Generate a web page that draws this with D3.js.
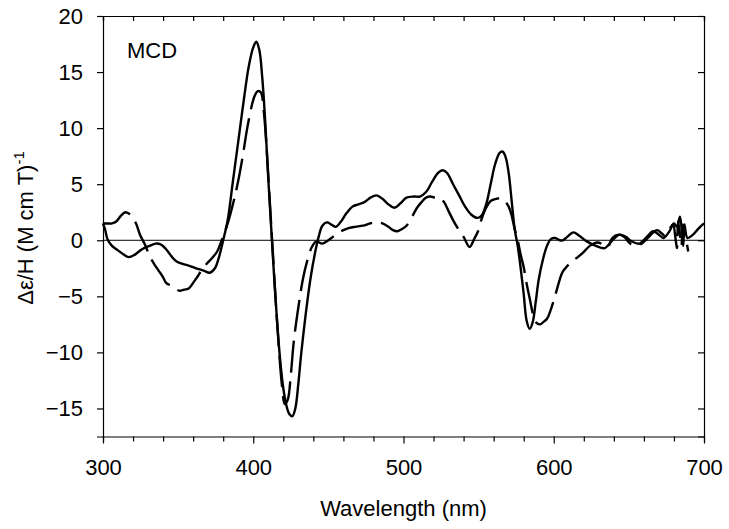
<!DOCTYPE html>
<html><head><meta charset="utf-8">
<script src="https://cdn.jsdelivr.net/npm/d3@7"></script>
<style>body{margin:0;background:#fff}svg{display:block}text{font-family:"Liberation Sans",Arial,sans-serif;fill:#000}</style>
</head><body><svg id="c" width="729" height="529"></svg>
<script>
const solidWl = [300,301.5,303,306,310,314,317,321,326,331,335,338,342,346,349,353,358,362,367,371,374.5,377,380,383,386.5,390,394,397,400,402,404,406,408,410,412,414,416,418,420,422,424,426,428,430,432,435,438,441,443.5,446,449,452,455,458,462,466,470,474,478,482,486,490,494,498,502,507,511,515,519,523,526,529,533,537,541,545,549,552,555,558,561,564,566,568,570,572,574,576,578,580,582,584,586,588,590,593,595.5,598,601,604,606,609,613,617,622,628,634,639,644,648,652,657,662,666,670,673,677,680,682,684,685.4,686.2,687,689,692.7,696,700];
const solidVal = [1.5,0.9,0.1,-0.5,-0.9,-1.3,-1.5,-1.3,-0.8,-0.5,-0.3,-0.35,-0.8,-1.5,-1.9,-2.1,-2.3,-2.5,-2.7,-2.9,-2.5,-1.6,0,1.8,5.3,8.8,12.8,15.5,17.2,17.7,17.0,14.5,10.5,5.5,1.0,-3.5,-7.5,-10.8,-13.2,-14.7,-15.5,-15.7,-15.0,-12.8,-10,-6.5,-3.5,-1.2,0.3,1.3,1.6,1.4,1.2,1.6,2.4,3.0,3.2,3.4,3.8,4.0,3.7,3.2,2.9,3.3,3.8,3.9,3.9,4.3,5.2,6.0,6.25,6.0,5.0,4.0,3.0,2.3,2.0,2.2,3.2,5.0,6.8,7.8,7.9,7.4,6.0,3.5,1.0,-0.5,-2.5,-4.8,-7.2,-7.9,-7.3,-5.5,-3.5,-1.6,-0.5,0.1,0.2,0.0,0.0,0.3,0.7,0.4,-0.1,-0.5,-0.7,0.0,0.5,0.3,-0.1,-0.3,0.3,0.8,0.5,0.2,0.8,1.5,1.2,2.1,0.5,-0.5,1.4,0.2,0.5,1.0,1.5];

const dashWl = [300,303,306,309,312,315,318,320,322,324.6,328,331,334,337,340,342,346,349,351,354,357,360,362.6,366,369,372.5,376,379,383,387,390,393,396,399,401,403,405,407,409,411,413,415,417,419,421,423,425,427,430,433,436,439,442,446,450,453,456,460,464,468,473,477.7,482,486,490,493,496,499,502,505.7,509,512,515,518,521,524,527,530,533,536,540,544,547,549.6,552,555,558,562,565,567.5,570,572,574,576,578,580,582,584,586,588,591,593,595.5,598,601,604,606,609,612,616,619.5,624,629,633,636,639,643,647,651,657,661,664,668.7,672,674,677,679.4,681,682,682.7,684,685,686,687.5,689.5];
const dashVal = [1.5,1.5,1.5,1.7,2.2,2.5,2.3,1.9,1.5,0.5,-0.4,-1.4,-2.1,-2.7,-3.3,-3.8,-4.1,-4.4,-4.5,-4.4,-4.3,-3.8,-3.3,-2.6,-2.1,-1.6,-1.0,0,1.5,3.5,5.3,7.5,10,12,12.9,13.3,13.2,11.5,8,3.5,-1,-5.5,-9.5,-12.8,-14.6,-14.2,-12,-9,-6,-3.5,-1.8,-0.6,-0.1,-0.3,0.0,0.3,0.6,0.9,1.1,1.2,1.3,1.5,1.6,1.5,1.2,0.9,0.8,1.0,1.3,2.1,2.9,3.4,3.8,3.9,3.8,3.8,3.4,2.6,1.8,1.1,0.3,-0.6,0.1,0.8,1.9,2.9,3.5,3.7,3.75,3.5,3.0,2.2,1.0,0,-1.3,-2.4,-3.9,-5.2,-6.5,-7.3,-7.5,-7.3,-7.0,-6.2,-4.9,-3.5,-2.8,-2.3,-1.9,-1.5,-1.1,-0.5,-0.2,-0.4,-0.6,0.2,0.5,0.3,-0.3,-0.4,0.0,0.4,0.9,0.6,0.4,1.0,1.4,0.2,-0.7,1.7,0.5,-0.5,1.4,0.5,-1.0];

const xMajor = [300,400,500,600,700];
const yMajor = [-15,-10,-5,0,5,10,15,20];

const svg = d3.select("#c");
const x = d3.scaleLinear().domain([300,700]).range([103,704]);
const y = d3.scaleLinear().domain([-17.5,20]).range([436.5,16]);
const X0=103,X1=704,Y0=436.5,Y1=16;
const FS = "22px";

svg.append("line").attr("x1",X0).attr("x2",X1).attr("y1",y(0)).attr("y2",y(0))
  .attr("stroke","#000").attr("stroke-width",1);

const line = d3.line().x(d=>x(d[0])).y(d=>y(d[1])).curve(d3.curveCatmullRom.alpha(0.5));
svg.append("path").datum(solidWl.map((w,i)=>[w,solidVal[i]])).attr("d",line)
  .attr("fill","none").attr("stroke","#000").attr("stroke-width",2.4).attr("stroke-linejoin","round");
svg.append("path").datum(dashWl.map((w,i)=>[w,dashVal[i]])).attr("d",line)
  .attr("fill","none").attr("stroke","#000").attr("stroke-width",2.4).attr("stroke-dasharray","32,9");

const minor = d3.range(300,701,20);
const gb = svg.append("g").attr("transform",`translate(0,${Y0})`)
  .call(d3.axisBottom(x).tickValues(minor).tickSize(5).tickFormat(()=> ""));
gb.selectAll(".tick line").attr("y2",d=>xMajor.includes(d)?7:5);
const gbl = svg.append("g").attr("transform",`translate(0,${Y0})`)
  .call(d3.axisBottom(x).tickValues(xMajor).tickSize(0).tickPadding(23).tickFormat(d3.format("d")));
gbl.select(".domain").remove();
svg.append("g").attr("transform",`translate(0,${Y1})`)
  .call(d3.axisTop(x).tickValues(minor).tickSize(-5).tickFormat(()=> ""));
svg.append("g").attr("transform",`translate(${X0},0)`)
  .call(d3.axisLeft(y).tickValues(yMajor).tickSize(6).tickPadding(14).tickFormat(d3.format("d")));
svg.append("g").attr("transform",`translate(${X1},0)`)
  .call(d3.axisRight(y).tickValues(yMajor).tickSize(-6).tickFormat(()=> ""));
svg.selectAll(".domain").attr("stroke","#000").attr("stroke-width",1.2);
svg.selectAll(".tick line").attr("stroke","#000").attr("stroke-width",1.2);
svg.selectAll(".tick text").attr("font-size",FS).attr("font-family","Liberation Sans, Arial, sans-serif").attr("fill","#000");

svg.append("text").attr("x",403.5).attr("y",516).attr("text-anchor","middle").attr("font-size",FS).text("Wavelength (nm)");
const yt = svg.append("text").attr("transform","translate(33,228) rotate(-90)").attr("text-anchor","middle").attr("font-size",FS);
yt.append("tspan").text("Δε/H (M cm T)");
yt.append("tspan").attr("dy","-9").attr("font-size","15px").text("-1");
svg.append("text").attr("x",127).attr("y",58).attr("font-size",FS).text("MCD");
</script></body></html>
